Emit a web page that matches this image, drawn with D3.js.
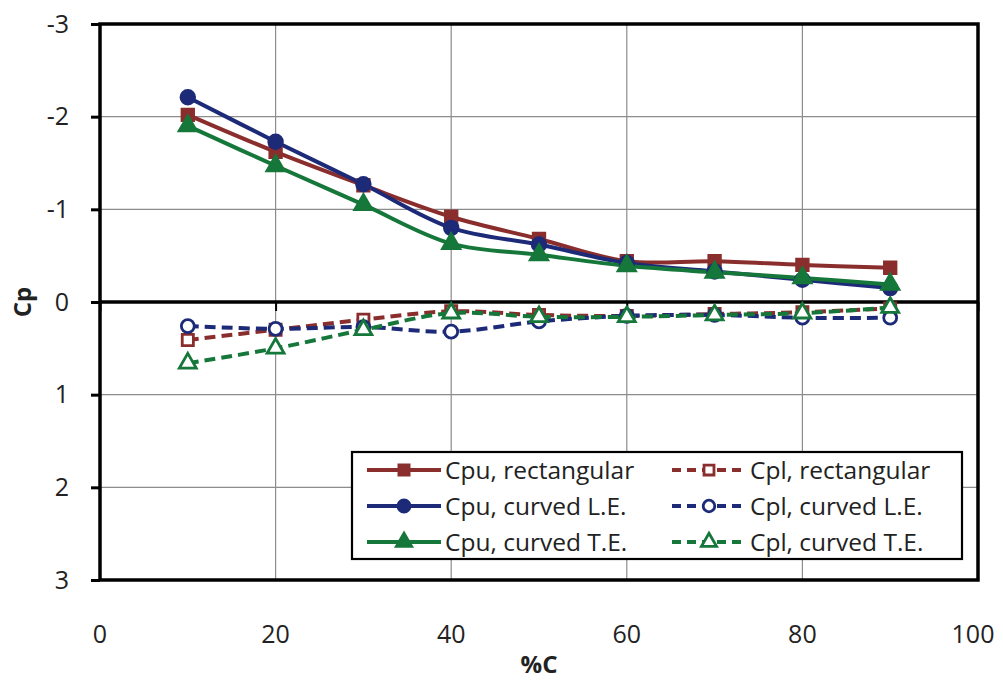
<!DOCTYPE html>
<html>
<head>
<meta charset="utf-8">
<script src="https://cdn.jsdelivr.net/npm/d3@7"></script>
<style>
  html, body { margin: 0; padding: 0; background: #fff; }
  svg { display: block; font-family: "Open Sans", "Noto Sans", sans-serif; }
</style>
</head>
<body>
<svg id="chart" width="1003" height="681"></svg>
<script>
// Chordwise stations (% chord)
const stations = [10, 20, 30, 40, 50, 60, 70, 80, 90];

// Upper-surface pressure coefficients
const cpuRect = [-2.02, -1.62, -1.26, -0.92, -0.68, -0.44, -0.44, -0.40, -0.37];
const cpuLE   = [-2.21, -1.73, -1.27, -0.80, -0.62, -0.42, -0.33, -0.24, -0.15];
const cpuTE   = [-1.90, -1.47, -1.05, -0.63, -0.51, -0.39, -0.32, -0.26, -0.19];

// Lower-surface pressure coefficients
const cplRect = [0.41, 0.30, 0.19, 0.10, 0.14, 0.15, 0.13, 0.11, 0.07];
const cplLE   = [0.26, 0.29, 0.27, 0.32, 0.21, 0.15, 0.14, 0.17, 0.17];
const cplTE   = [0.66, 0.50, 0.30, 0.12, 0.16, 0.16, 0.14, 0.12, 0.06];

const xTicks = [0, 20, 40, 60, 80, 100];
const yTicks = [-3, -2, -1, 0, 1, 2, 3];

const RED = "#8a2e2d", BLUE = "#1c2a78", GREEN = "#16773a";

const series = [
  { name: "Cpu, rectangular", values: cpuRect, color: RED,   marker: "square",   open: false, dashed: false },
  { name: "Cpl, rectangular", values: cplRect, color: RED,   marker: "square",   open: true,  dashed: true },
  { name: "Cpu, curved L.E.", values: cpuLE,   color: BLUE,  marker: "circle",   open: false, dashed: false },
  { name: "Cpl, curved L.E.", values: cplLE,   color: BLUE,  marker: "circle",   open: true,  dashed: true },
  { name: "Cpu, curved T.E.", values: cpuTE,   color: GREEN, marker: "triangle", open: false, dashed: false },
  { name: "Cpl, curved T.E.", values: cplTE,   color: GREEN, marker: "triangle", open: true,  dashed: true }
];

const svg = d3.select("#chart");
const plot = { left: 100, right: 978, top: 24, bottom: 580 };
const FONT = 25;

const x = d3.scaleLinear().domain([0, 100]).range([plot.left, plot.right]);
// Cp axis is inverted: suction (negative) upward
const y = d3.scaleLinear().domain([-3, 3]).range([plot.top, plot.bottom]);

// Gridlines
const grid = svg.append("g");
grid.selectAll("line.gx").data(xTicks.slice(1, -1)).join("line")
  .attr("x1", d => x(d)).attr("x2", d => x(d))
  .attr("y1", plot.top).attr("y2", plot.bottom)
  .attr("stroke", "#8c8c8c").attr("stroke-width", 1.2);
grid.selectAll("line.gy").data(yTicks.filter(d => d !== 0 && d !== -3 && d !== 3)).join("line")
  .attr("x1", plot.left).attr("x2", plot.right)
  .attr("y1", d => y(d)).attr("y2", d => y(d))
  .attr("stroke", "#8c8c8c").attr("stroke-width", 1.2);

// Y axis ticks and labels
const yAxis = d3.axisLeft(y).tickValues(yTicks).tickSize(9).tickPadding(22).tickFormat(d3.format("d"));
const gy = svg.append("g").attr("transform", `translate(${plot.left},0)`).call(yAxis);
gy.select(".domain").remove();
gy.selectAll(".tick line").attr("stroke", "#000").attr("stroke-width", 3);
gy.selectAll(".tick text").attr("font-size", FONT).attr("fill", "#222")
  .attr("font-family", "'Open Sans', sans-serif")
  .text(d => d < 0 ? "-" + Math.abs(d) : d);

// X axis along Cp = 0 with ticks below it
const xAxis = d3.axisBottom(x).tickValues(xTicks).tickSize(9).tickFormat("");
const gx = svg.append("g").attr("transform", `translate(0,${y(0)})`).call(xAxis);
gx.select(".domain").remove();
gx.selectAll(".tick line").attr("stroke", "#000").attr("stroke-width", 2);

// X tick labels below the plot frame
svg.append("g").selectAll("text").data(xTicks).join("text")
  .attr("x", d => x(d) - (d === 100 ? 5 : 0)).attr("y", 643)
  .attr("text-anchor", "middle").attr("font-size", FONT).attr("fill", "#222")
  .text(d => d);

// Plot frame
svg.append("rect")
  .attr("x", plot.left).attr("y", plot.top)
  .attr("width", plot.right - plot.left).attr("height", plot.bottom - plot.top)
  .attr("fill", "none").attr("stroke", "#000").attr("stroke-width", 3.5);

// Zero line
svg.append("line")
  .attr("x1", plot.left).attr("x2", plot.right)
  .attr("y1", y(0)).attr("y2", y(0))
  .attr("stroke", "#000").attr("stroke-width", 3.5);

// Axis titles
svg.append("text").attr("x", x(50)).attr("y", 673)
  .attr("text-anchor", "middle").attr("font-size", 24).attr("font-weight", "bold").attr("fill", "#222")
  .text("%C");
svg.append("text").attr("transform", `translate(31,${y(0)}) rotate(-90)`)
  .attr("text-anchor", "middle").attr("font-size", 24).attr("font-weight", "bold").attr("fill", "#222")
  .text("Cp");

// Marker drawing
const symbolFor = { square: d3.symbolSquare, circle: d3.symbolCircle, triangle: d3.symbolTriangle };
const sizeFor = { square: 165, circle: 175, triangle: 165 };
function drawMarker(g, s, cx, cy, scale = 1) {
  const sym = d3.symbol().type(symbolFor[s.marker]).size(sizeFor[s.marker] * scale * (s.open ? 0.75 : 1));
  g.append("path")
    .attr("d", sym())
    .attr("transform", `translate(${cx},${cy})`)
    .attr("fill", s.open ? "#fff" : s.color)
    .attr("stroke", s.color)
    .attr("stroke-width", s.open ? 2.8 : 1.5);
}

const line = d3.line()
  .x((d, i) => x(stations[i]))
  .y(d => y(d))
  .curve(d3.curveCatmullRom.alpha(0.5));

const dataLayer = svg.append("g");
series.forEach(s => {
  dataLayer.append("path")
    .attr("d", line(s.values))
    .attr("fill", "none")
    .attr("stroke", s.color)
    .attr("stroke-width", 4)
    .attr("stroke-dasharray", s.dashed ? "11,6" : null);
});
series.forEach(s => {
  s.values.forEach((v, i) => drawMarker(dataLayer, s, x(stations[i]), y(v)));
});

// Legend
const legend = svg.append("g");
legend.append("rect")
  .attr("x", 352).attr("y", 452).attr("width", 610).attr("height", 107)
  .attr("fill", "#fff").attr("stroke", "#000").attr("stroke-width", 2.2);
const rowY = [470, 506, 542];
const colX = [367, 672];
series.forEach((s, k) => {
  const col = k % 2, row = Math.floor(k / 2);
  const lx = colX[col], ly = rowY[row];
  const lw = 74;
  legend.append("line")
    .attr("x1", lx).attr("x2", lx + lw).attr("y1", ly).attr("y2", ly)
    .attr("stroke", s.color).attr("stroke-width", 4)
    .attr("stroke-dasharray", s.dashed ? "9,6" : null);
  drawMarker(legend, s, lx + lw / 2, ly, 0.8);
  legend.append("text")
    .attr("x", lx + lw + 4).attr("y", ly + 9)
    .attr("font-size", 24.5).attr("fill", "#222")
    .text(s.name);
});
</script>
</body>
</html>
